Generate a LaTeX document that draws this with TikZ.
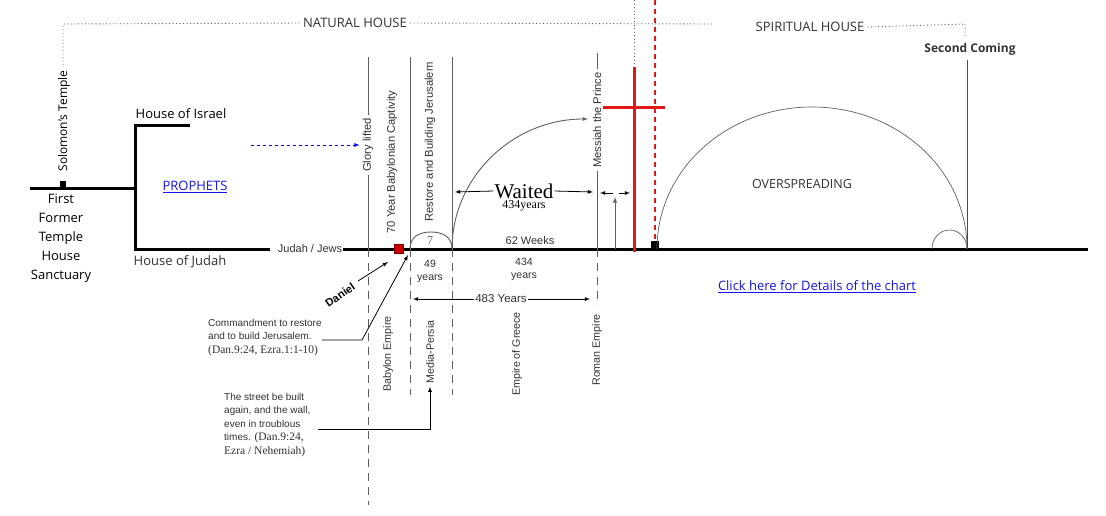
\documentclass[tikz,border=0pt]{standalone}
\usepackage{fontspec}
\setmainfont{Open Sans}
\newfontfamily\arialfont{Liberation Sans}
\newfontfamily\timesfont{Liberation Serif}
\usepackage{tikz}
\usetikzlibrary{arrows,positioning}
\usepackage{xcolor}
\definecolor{chartgray}{RGB}{50,50,50}
\definecolor{linegray}{RGB}{95,95,95}
\definecolor{linkblue}{RGB}{20,20,235}
\definecolor{crossred}{RGB}{225,25,25}
\definecolor{comingred}{RGB}{150,45,45}
\tikzstyle{heading} = [font=\fontsize{13}{16}\selectfont, text=chartgray, inner sep=3pt]
\tikzstyle{label} = [font=\fontsize{13}{19}\selectfont, text=black, align=center, inner sep=2pt]
\tikzstyle{link} = [font=\fontsize{13}{16}\selectfont, text=linkblue, inner sep=2pt]
\tikzstyle{era} = [font=\arialfont\fontsize{11.2}{13}\selectfont, text=chartgray, rotate=90, inner sep=3pt]
\tikzstyle{lowera} = [era, font=\arialfont\fontsize{10.7}{13}\selectfont]
\tikzstyle{small} = [font=\arialfont\fontsize{10.5}{13}\selectfont, text=chartgray, align=center, inner sep=1pt]
\tikzstyle{note} = [font=\arialfont\fontsize{10}{13.5}\selectfont, text=chartgray, align=left, inner sep=0pt]
\tikzstyle{timeline} = [line width=3pt, black]
\tikzstyle{marker} = [linegray, line width=0.9pt]
\tikzstyle{period} = [marker, dash pattern=on 8pt off 6pt]
\tikzstyle{house} = [linegray, line width=0.9pt, dash pattern=on 1pt off 2.5pt]
\tikzstyle{arrow} = [->, >=latex, line width=0.8pt, black]

\begin{document}
\begin{tikzpicture}[x=1pt, y=-1pt]
\useasboundingbox (0,0) rectangle (1106,515);

% Natural and spiritual house
\node[heading] (natural) at (355,23) {NATURAL HOUSE};
\node[heading] (spiritual) at (810,27) {SPIRITUAL HOUSE};
\coordinate (solomontop) at (63,24);
\coordinate (housesplit) at (713,24);
\coordinate (comingtop) at (965,24);
\draw[house] (63,65) -- (solomontop) -- (natural.west);
\draw[house] (natural.east) -- (housesplit);
\draw[house] (spiritual.east) -- (comingtop) -- (965,37);
\draw[house] (634,0) -- (634,65);

% First temple
\node[era, text=black, font=\fontsize{12}{14}\selectfont] (solomon) at (64,121) {Solomon's Temple};
\node[fill=black, minimum size=6pt, inner sep=0pt] (temple) at (63,184) {};
\node[label] (first) at (61,238) {First\\Former\\Temple\\House\\Sanctuary};
\draw[timeline] (30,188) -- (135,188);
\draw[timeline] (190,125) -- (135,125) -- (135,249) -- (270,249);
\node[label, anchor=south] (israel) at (181,121) {House of Israel};
\node[label, text=chartgray] (judahhouse) at (180,262) {House of Judah};
\node[link] (prophets) at (195,187) {\underline{PROPHETS}};
\node[small, font=\arialfont\fontsize{11}{13}\selectfont] (judah) at (310,249) {Judah / Jews};
\draw[timeline] (judah.east) -- (1088,249);

% Vertical markers
\node[era] (glory) at (368,145) {Glory lifted};
\draw[marker] (368,57) -- (glory.east);
\draw[marker] (glory.west) -- (368,249);
\draw[period] (368,249) -- (368,505);
\draw[->, >=latex, blue, dashed, line width=0.8pt] (251,145) -- (glory.north);
\node[era] (captivity) at (392,162) {70 Year Babylonian Captivity};
\draw[marker] (410,57) -- (410,249);
\draw[period] (410,249) -- (410,395);
\node[era] (restore) at (430,142) {Restore and Building Jerusalem};
\draw[marker] (452,57) -- (452,249);
\draw[period] (452,249) -- (452,395);
\node[era] (messiah) at (597,120) {Messiah the Prince};
\draw[marker] (597,53) -- (messiah.east);
\draw[marker] (messiah.west) -- (597,249);
\draw[period] (597,249) -- (597,305);
\node[fill=red!80!black, draw=red!50!black, minimum size=9pt, inner sep=0pt] (decree) at (399,249) {};

% Weeks
\draw[marker] (410,249) .. controls (410,237) and (419,232) .. (431,232) .. controls (443,232) and (452,237) .. (452,249);
\node[font=\timesfont\fontsize{12}{14}\selectfont, text=linegray] (seven) at (430,241) {7};
\coordinate (restorefoot) at (452,249);
\coordinate (messiahmark) at (588,119);
\draw[arrow, marker] (restorefoot) .. controls (452,177) and (513,119) .. (messiahmark);
\node[font=\timesfont\fontsize{21}{22}\selectfont, inner sep=1pt] (waited) at (524,191) {Waited};
\node[font=\timesfont\fontsize{12}{12}\selectfont, inner sep=0pt] (waityears) at (524,206) {434years};
\draw[arrow] (waited.west) -- (455,192);
\draw[arrow] (waited.east) -- (593,192);
\draw[arrow] (613,193) -- (600,193);
\draw[arrow] (619,193) -- (630,193);
\draw[arrow, marker] (615,249) -- (615,197);
\node[small, font=\arialfont\fontsize{11}{13}\selectfont] (weeks) at (530,241) {62 Weeks};
\node[small] (fortynine) at (430,271) {49\\years};
\node[small] (years434) at (524,269) {434\\years};
\node[small, font=\arialfont\fontsize{11.5}{13}\selectfont] (years483) at (501,299) {483 Years};
\draw[arrow] (years483.west) -- (413,299);
\draw[arrow] (years483.east) -- (590,299);

% Empires
\node[lowera] (babylon) at (388,354) {Babylon Empire};
\node[lowera] (persia) at (430,352) {Media-Persia};
\node[lowera] (greece) at (517,354) {Empire of Greece};
\node[lowera] (rome) at (597,350) {Roman Empire};

% Daniel and the commandments
\node[font=\arialfont\bfseries\fontsize{11}{12}\selectfont, rotate=35, inner sep=0pt] (daniel) at (340,295) {Daniel};
\draw[arrow] (358,281) -- (388,262);
\node[note, anchor=north west] (commandment) at (208,319) {Commandment to restore\\and to build Jerusalem.\\{\timesfont\fontsize{11.5}{13.5}\selectfont (Dan.9:24, Ezra.1:1-10)}};
\draw[arrow] (322,340) -- (362,340) -- (408,255);
\node[note, anchor=north west] (street) at (224,393) {The street be built\\again, and the wall,\\even in troublous\\times. {\timesfont\fontsize{11.5}{13.5}\selectfont (Dan.9:24,}\\{\timesfont\fontsize{11.5}{13.5}\selectfont Ezra / Nehemiah)}};
\draw[arrow] (318,429) -- (430,429) -- (persia.west);

% The cross
\draw[crossred, line width=3pt] (634,67) -- (634,252);
\draw[crossred, line width=3pt] (603,107) -- (665,107);
\draw[crossred, line width=1.2pt, dash pattern=on 5pt off 4pt] (655,0) -- (655,241);
\node[fill=black, minimum size=8pt, inner sep=0pt] (church) at (655,245) {};

% Spiritual house
\draw[marker, line width=0.7pt] (657,249) .. controls (657,170) and (726,107) .. (812,107) .. controls (898,107) and (967,170) .. (967,249);
\node[heading, font=\fontsize{12.5}{15}\selectfont] (overspreading) at (802,184) {OVERSPREADING};
\draw[marker, line width=0.7pt] (932,249) .. controls (932,238) and (940,230) .. (949.5,230) .. controls (959,230) and (967,238) .. (967,249);
\node[heading, font=\bfseries\fontsize{12}{14}\selectfont] (coming) at (970,49) {Second Coming};
\draw[comingred, line width=0.8pt] (967,60) -- (967,249);
\node[link] (details) at (817,287) {\underline{Click here for Details of the chart}};
\end{tikzpicture}
\end{document}
